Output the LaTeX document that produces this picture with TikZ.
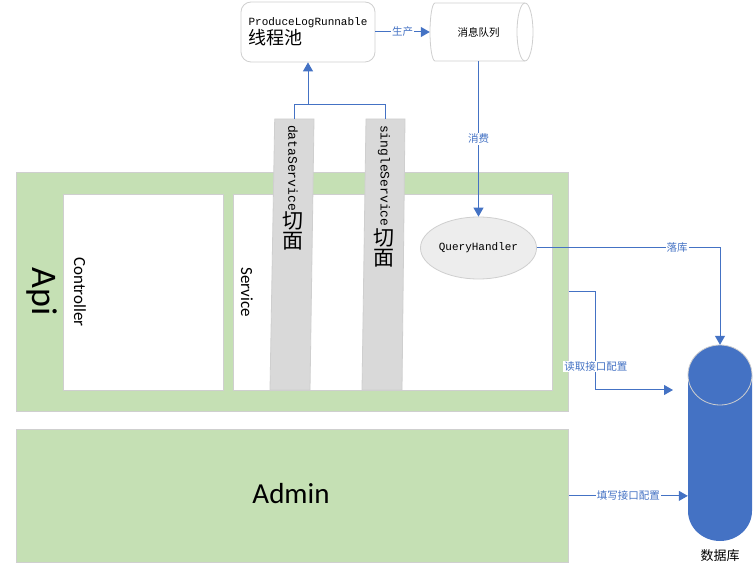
\documentclass[tikz,border=0pt]{standalone}
\usepackage{fontspec}
\setmainfont{Carlito}
\newfontfamily\cjk{Noto Sans CJK SC}
\newfontfamily\mono{Liberation Mono}
\usetikzlibrary{arrows.meta,shapes.geometric}
\definecolor{apigreen}{HTML}{C5E0B4}
\definecolor{edgegray}{HTML}{CFCFCF}
\definecolor{bargray}{HTML}{D9D9D9}
\definecolor{lineblue}{HTML}{4472C4}
\definecolor{dbblue}{HTML}{4472C4}
\definecolor{qhgray}{HTML}{EDEDED}
\tikzset{
  greenbox/.style={draw=edgegray, fill=apigreen, line width=0.8pt, inner sep=0pt, anchor=north west},
  whitebox/.style={draw=edgegray, fill=white, line width=0.8pt, inner sep=0pt, anchor=north west},
  barshape/.style={draw=edgegray, fill=bargray, line width=0.8pt},
  conn/.style={draw=lineblue, line width=1pt, -{Triangle[length=9pt,width=10pt]}},
  plainconn/.style={draw=lineblue, line width=0.9pt},
  lbl/.style={fill=white, inner sep=1pt, text=lineblue, font=\cjk\fontsize{10.5}{12}\selectfont},
  vlabel/.style={rotate=-90, inner sep=0pt, font=\fontsize{17}{20}\selectfont},
  monolbl/.style={rotate=-90, inner sep=0pt, anchor=west, font=\mono\fontsize{13}{14}\selectfont},
  cjkstack/.style={anchor=north, inner sep=0pt, align=center, font=\cjk\fontsize{21}{23}\selectfont},
}
\begin{document}
\begin{tikzpicture}[x=1pt,y=-1pt]
\useasboundingbox (0,0) rectangle (753,569);

% Api container
\node[greenbox, minimum width=552pt, minimum height=239pt] (api) at (16,172) {};
\node[whitebox, minimum width=160pt, minimum height=196pt] (ctrl) at (63,194) {};
\node[whitebox, minimum width=319pt, minimum height=196pt] (svc) at (233,194) {};
\node[vlabel, font=\fontsize{36}{40}\selectfont] (apilbl) at (42,292) {Api};
\node[vlabel] (ctrllbl) at (80,292) {Controller};
\node[vlabel] (svclbl) at (247,292) {Service};

% Admin
\node[greenbox, minimum width=552pt, minimum height=133pt] (admin) at (16,429) {};
\node[font=\fontsize{29}{32}\selectfont, inner sep=0pt] (adminlbl) at (291,494) {Admin};

% aspect bars
\path[barshape] (274.7,119) -- (314,119) -- (310,390) -- (270,390) -- cycle;
\path[barshape] (366,119) -- (405,119) -- (402,390) -- (362,390) -- cycle;
\coordinate (dsTop) at (294,119);
\coordinate (ssTop) at (385.5,119);
\node[monolbl] (dslbl) at (293,125) {dataService};
\node[cjkstack] (dscjk) at (dslbl.east) {切\\[-3pt]面};
\node[monolbl] (sslbl) at (384,125) {singleService};
\node[cjkstack] (sscjk) at ([yshift=-2pt]sslbl.east) {切\\[-3pt]面};

% thread pool
\node[draw=edgegray, fill=white, rounded corners=10pt, line width=0.8pt,
      minimum width=134pt, minimum height=60pt, align=left, inner sep=0pt] (pool) at (308,32)
  {{\mono\fontsize{11}{13}\selectfont ProduceLogRunnable}\\[1pt]{\cjk\fontsize{18}{20}\selectfont 线程池}};

% message queue (horizontal cylinder)
\path[draw=edgegray, fill=white, line width=0.8pt] (435,3) -- (525,3)
  arc[start angle=-90, end angle=90, x radius=8, y radius=29] -- (435,61)
  arc[start angle=90, end angle=270, x radius=5, y radius=29] -- cycle;
\draw[edgegray, line width=0.8pt] (525,3) arc[start angle=270, end angle=90, x radius=8, y radius=29];
\node[minimum width=97pt, minimum height=58pt, inner sep=0pt] (queue) at (478.5,32)
  {\cjk\fontsize{10.5}{12}\selectfont 消息队列};

% QueryHandler
\node[draw=edgegray, fill=qhgray, line width=0.8pt, ellipse, minimum width=116pt, minimum height=62pt, inner sep=0pt]
  (qh) at (478.5,248) {\mono\fontsize{11}{13}\selectfont QueryHandler};

% database cylinder
\path[fill=dbblue] (688,375) -- (688,511)
  arc[start angle=180, end angle=0, x radius=32, y radius=30] -- (752,375)
  arc[start angle=0, end angle=-180, x radius=32, y radius=30] -- cycle;
\draw[edgegray, line width=0.8pt] (720,375) ellipse [x radius=32, y radius=30];
\node[minimum width=64pt, minimum height=196pt, inner sep=0pt] (db) at (720,443) {};
\node[inner sep=0pt, font=\cjk\fontsize{13}{15}\selectfont] (dblbl) at (720,556) {数据库};

% connectors
\coordinate (j) at (308,104);
\draw[plainconn] (dsTop) -- (dsTop |- j) -- (ssTop |- j) -- (ssTop);
\draw[conn] (j) -- (pool.south);
\draw[conn] (pool.east) -- node[lbl] {生产} (queue.west);
\draw[conn] (queue.south) -- node[lbl, pos=0.5] {消费} (qh.north);
\draw[conn] (qh.east) -| node[lbl, pos=0.383] {落库} (db.north);
\coordinate (rd) at (673,390);
\draw[conn] (api.east) -- ++(27,0) |- node[lbl, pos=0.38] {读取接口配置} (rd);
\draw[conn] (admin.east) -- node[lbl, pos=0.5] {填写接口配置} (db.west |- admin.east);
\end{tikzpicture}
\end{document}
